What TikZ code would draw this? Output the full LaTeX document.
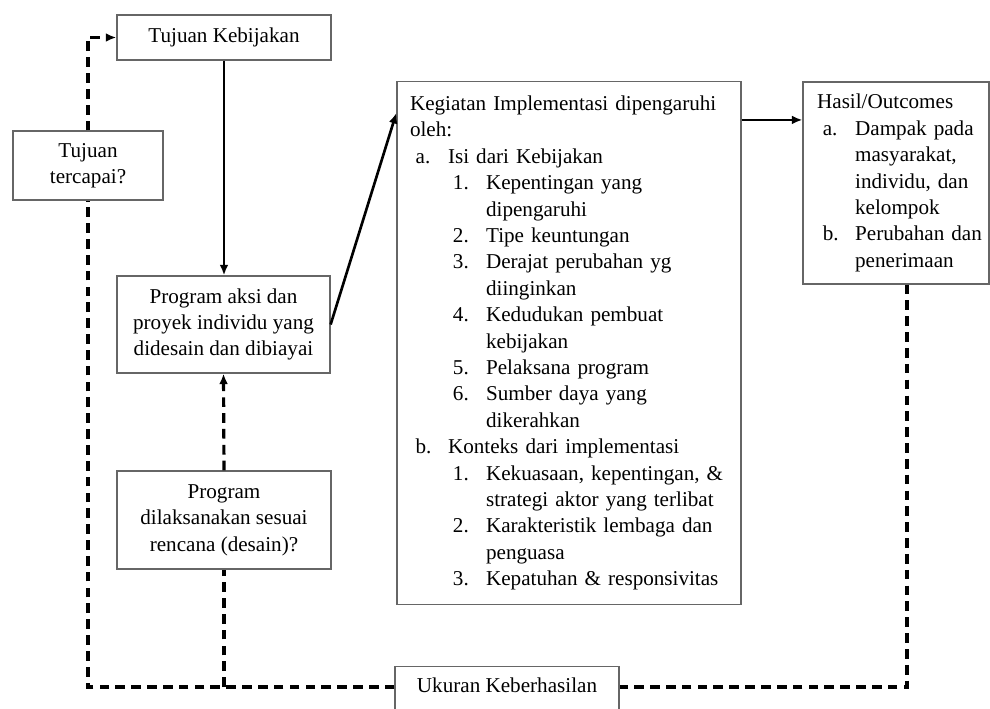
\documentclass[tikz,border=0pt]{standalone}
\usepackage{fontspec}
\setmainfont{Liberation Serif}
\usetikzlibrary{arrows.meta}
\newcommand{\butir}[2]{\hspace*{3.2pt}\makebox[18.4pt][l]{#1}\mbox{#2}}
\newcommand{\lanjut}[1]{\hspace*{21.6pt}\mbox{#1}}
\newcommand{\subbutir}[2]{\hspace*{24.4pt}\makebox[18.8pt][l]{#1}\mbox{#2}}
\newcommand{\sublanjut}[1]{\hspace*{43.2pt}\mbox{#1}}

\begin{document}
\begin{tikzpicture}[x=0.568pt,y=-0.568pt,
  kotak/.style={draw=black!60,line width=0.7pt,fill=white,align=center,inner sep=2pt,font=\fontsize{12}{15}\selectfont},
  daftar/.style={kotak,align=left,inner ysep=0pt},
  panah/.style={line width=1.5pt,-{Latex[length=6pt,width=5pt]}},
  putus/.style={line width=1.8pt,dash pattern=on 5.5pt off 3.5pt}]

\useasboundingbox (0,0) rectangle (990,709);

\node (tk) [kotak,minimum width=121.6pt,minimum height=25.6pt] at (224,37.5) {Tujuan Kebijakan};
\node (tt) [kotak,minimum width=85.2pt,minimum height=39.2pt] at (88,165.5) {Tujuan\\tercapai?};
\node (pa) [kotak,minimum width=121pt,minimum height=55.1pt] at (223.5,324.5) {Program aksi dan\\proyek individu yang\\didesain dan dibiayai};
\node (pd) [kotak,minimum width=121.6pt,minimum height=55.7pt] at (224,520) {Program\\dilaksanakan sesuai\\rencana (desain)?};

\node (ki) [daftar,text width=180.6pt,inner xsep=7.4pt,minimum height=297.1pt] at (569,343) {Kegiatan Implementasi dipengaruhi\\
oleh:\\
\butir{a.}{Isi dari Kebijakan}\\
\subbutir{1.}{Kepentingan yang}\\
\sublanjut{dipengaruhi}\\
\subbutir{2.}{Tipe keuntungan}\\
\subbutir{3.}{Derajat perubahan yg}\\
\sublanjut{diinginkan}\\
\subbutir{4.}{Kedudukan pembuat}\\
\sublanjut{kebijakan}\\
\subbutir{5.}{Pelaksana program}\\
\subbutir{6.}{Sumber daya yang}\\
\sublanjut{dikerahkan}\\
\butir{b.}{Konteks dari implementasi}\\
\subbutir{1.}{Kekuasaan, kepentingan, \&}\\
\sublanjut{strategi aktor yang terlibat}\\
\subbutir{2.}{Karakteristik lembaga dan}\\
\sublanjut{penguasa}\\
\subbutir{3.}{Kepatuhan \& responsivitas}};

\node (ho) [daftar,text width=89.6pt,inner xsep=8pt,minimum height=114.7pt] at (896,183) {Hasil/Outcomes\\
\butir{a.}{Dampak pada}\\
\lanjut{masyarakat,}\\
\lanjut{individu, dan}\\
\lanjut{kelompok}\\
\butir{b.}{Perubahan dan}\\
\lanjut{penerimaan}};

\node (uk) [kotak,minimum width=127.2pt,text height=10.5pt,text depth=12pt,inner ysep=4pt,anchor=base] at (507,692) {Ukuran Keberhasilan};

\coordinate (sk) at (907,687);

\draw[panah] (tk.south) -- (tk.south |- pa.north);
\draw[panah] (pa.east) -- ([yshift=-18.2pt]ki.north west);
\draw[panah] ([yshift=-22.2pt]ki.north east) -- ([yshift=-22.2pt]ki.north east -| ho.west);

\draw[putus] (ho.south -| sk) -- (sk) -- (uk.east |- sk);
\draw[putus] (uk.west |- sk) -- (tt.south |- sk) -- (tt.south);
\draw[panah,putus] (tt.north) -- (tt.north |- tk.west) -- (tk.west);
\draw[putus] (pd.south |- sk) -- (pd.south);
\draw[panah,putus] (pd.north) -- (pa.south);

\end{tikzpicture}
\end{document}
